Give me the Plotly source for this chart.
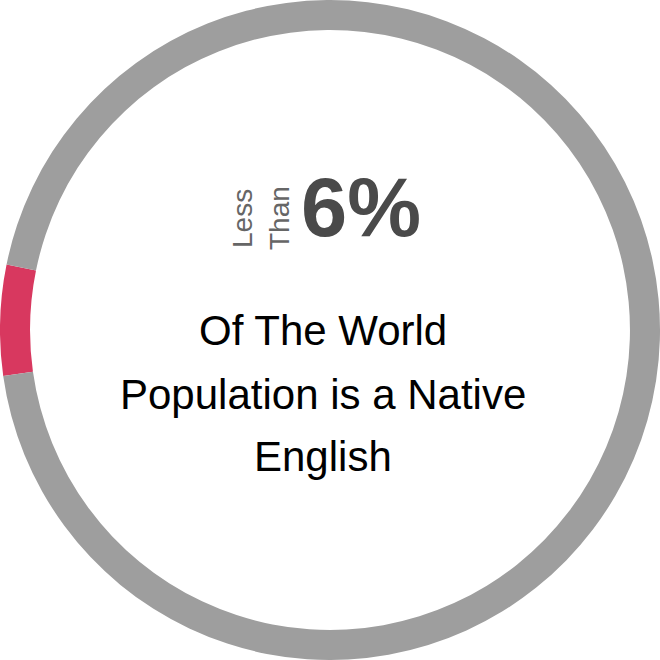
import plotly.graph_objects as go

# Anteile (Prozent)
labels = ["Native English", "Others"]
values = [5.4, 94.6]
colors = ["#d8385f", "#9e9e9e"]

# Texte in der Mitte
small_words = ["Less", "Than"]
big_value = "6%"
caption_lines = ["Of The World", "Population is a Native", "English"]

W = H = 660

fig = go.Figure(go.Pie(
    labels=labels,
    values=values,
    hole=0.909,
    sort=False,
    direction="clockwise",
    rotation=262,
    marker=dict(colors=colors, line=dict(width=0)),
    textinfo="none",
    hoverinfo="skip",
    showlegend=False,
    domain=dict(x=[0, 1], y=[0, 1]),
))


def py(pixel_y):
    return 1 - pixel_y / H


annotations = []
# "Less" / "Than" senkrecht
for word, px_x in zip(small_words, [242, 279]):
    annotations.append(dict(
        text=word, x=px_x / W, y=py(218), xref="paper", yref="paper",
        showarrow=False, textangle=-90, xanchor="center", yanchor="middle",
        font=dict(family="Liberation Sans, Arial", size=28, color="#666666"),
    ))

annotations.append(dict(
    text="<b>" + big_value + "</b>", x=361 / W, y=py(207), xref="paper", yref="paper",
    showarrow=False, xanchor="center", yanchor="middle",
    font=dict(family="Liberation Sans, Arial", size=83, color="#4a4a4a"),
))

for line, px_y in zip(caption_lines, [330, 394, 456]):
    annotations.append(dict(
        text=line, x=323 / W, y=py(px_y), xref="paper", yref="paper",
        showarrow=False, xanchor="center", yanchor="middle",
        font=dict(family="Liberation Sans, Arial", size=42, color="#000000"),
    ))

fig.update_layout(
    width=W, height=H,
    margin=dict(l=0, r=0, t=0, b=0),
    paper_bgcolor="white",
    plot_bgcolor="white",
    annotations=annotations,
)

# Seitenrand des Browsers entfernen, keine Modebar
fig.write_html("out.html", config={"displayModeBar": False},
               post_script="document.body.style.margin='0';")
